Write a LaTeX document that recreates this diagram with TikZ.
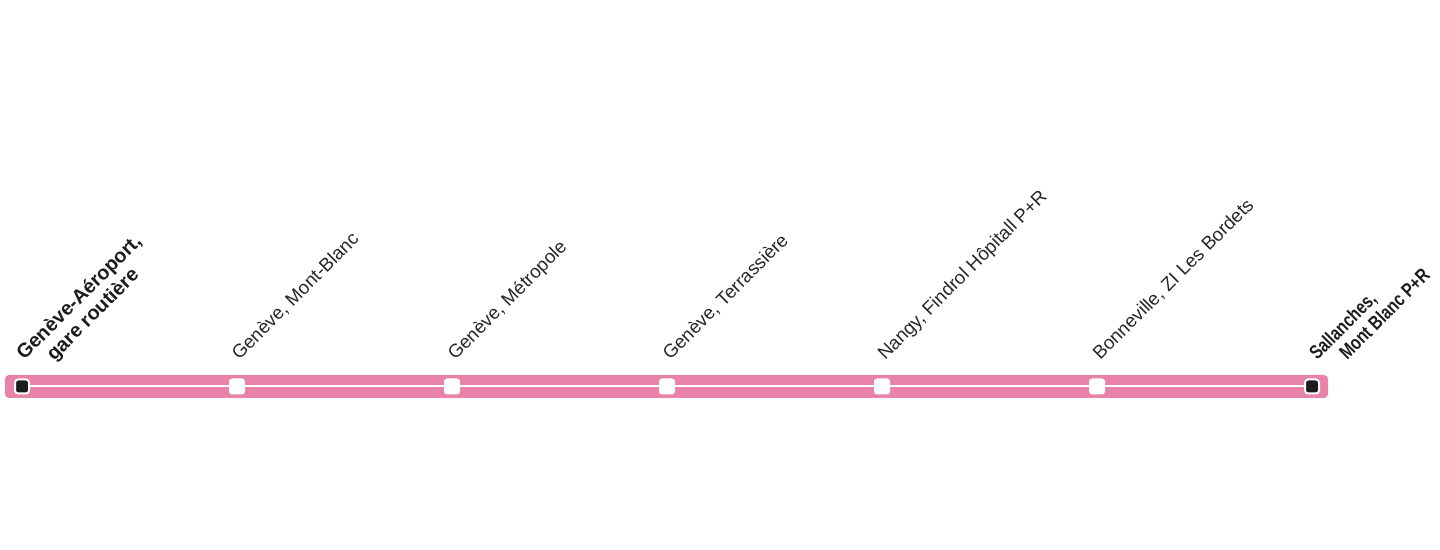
\documentclass[tikz,border=0pt]{standalone}
\usepackage{fontspec}
\setmainfont{Liberation Sans}
\newfontfamily\narrowfont[FakeStretch=0.79]{Liberation Sans}
\usepackage{tikz}
\usetikzlibrary{positioning}
\definecolor{linepink}{RGB}{232,130,168}
\definecolor{stopdark}{RGB}{28,28,28}
\definecolor{labelgray}{RGB}{38,38,38}
\tikzset{
  stopbox/.style={rectangle, fill=white, minimum size=8pt,
    inner sep=0pt, rounded corners=1.5pt},
  termbox/.style={rectangle, fill=stopdark, draw=white, line width=1pt,
    minimum size=7pt, inner sep=0pt, rounded corners=1.5pt},
  stoplabel/.style={rotate=45, anchor=base west, inner sep=0pt,
    text=labelgray, font=\fontsize{9.35}{11}\selectfont},
  termlabel/.style={rotate=45, anchor=base west, inner sep=0pt,
    text=stopdark, font=\fontsize{9.9}{11}\selectfont\bfseries},
  narrowlabel/.style={rotate=45, anchor=base west, inner sep=0pt,
    text=stopdark, font=\narrowfont\fontsize{9.8}{11}\selectfont\bfseries},
  centerline/.style={draw=white, line width=1pt}
}

\begin{document}
\begin{tikzpicture}[x=0.5pt, y=-0.5pt]
  \useasboundingbox (0,0) rectangle (1440,550);

  % Line bar
  \fill[linepink, rounded corners=2pt] (5,375) rectangle (1328,398);

  % Stops
  \node[termbox] (s1) at (22,386.5) {};
  \node[stopbox] (s2) at (237,386.5) {};
  \node[stopbox] (s3) at (452,386.5) {};
  \node[stopbox] (s4) at (667,386.5) {};
  \node[stopbox] (s5) at (882,386.5) {};
  \node[stopbox] (s6) at (1097,386.5) {};
  \node[termbox] (s7) at (1312,386.5) {};

  % Center line
  \draw[centerline] (s1) -- (s2);
  \draw[centerline] (s2) -- (s3);
  \draw[centerline] (s3) -- (s4);
  \draw[centerline] (s4) -- (s5);
  \draw[centerline] (s5) -- (s6);
  \draw[centerline] (s6) -- (s7);

  % Terminal labels
  \node[termlabel] (t1a) at (24,361) {Genève-Aéroport,};
  \node[termlabel] (t1b) at (54,362) {gare routière};
  \node[narrowlabel] (t7a) at (1317,361) {Sallanches,};
  \node[narrowlabel] (t7b) at (1347,361) {Mont Blanc P+R};

  % Stop labels
  \node[stoplabel] (l2) at (239,361) {Genève, Mont-Blanc};
  \node[stoplabel] (l3) at (455,361) {Genève, Métropole};
  \node[stoplabel] (l4) at (670,361) {Genève, Terrassière};
  \node[stoplabel] (l5) at (885,361) {Nangy, Findrol Hôpitall P+R};
  \node[stoplabel] (l6) at (1100,361) {Bonneville, ZI Les Bordets};
\end{tikzpicture}
\end{document}
